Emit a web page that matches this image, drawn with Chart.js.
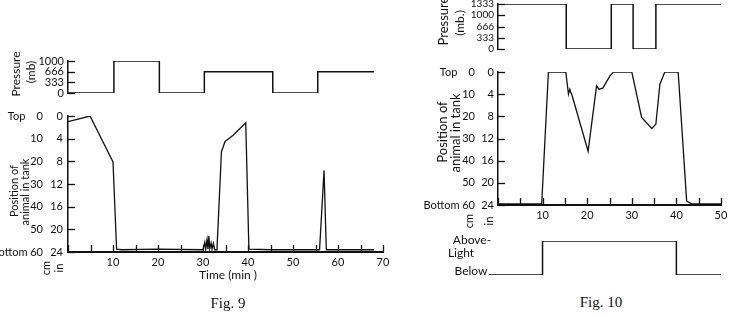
<!DOCTYPE html>
<html>
<head>
<meta charset="utf-8">
<script src="https://cdn.jsdelivr.net/npm/chart.js@4.4.0/dist/chart.umd.min.js"></script>
<style>
  body { margin: 0; background: #fff; width: 733px; height: 318px; position: relative; overflow: hidden;
         font-family: Lato, "DejaVu Sans", sans-serif; color: #111; }
  canvas { position: absolute; }
  .t { position: absolute; white-space: nowrap; line-height: 1; transform: translate(-50%, -50%); }
  .r { transform: translate(-50%, -50%) rotate(-90deg); }
  .fig { font-family: "Liberation Serif", serif; font-size: 15px; }
</style>
</head>
<body>
<canvas id="press9" width="400" height="45" style="left:0;top:55px"></canvas>
<canvas id="pos9" width="400" height="180" style="left:0;top:100px"></canvas>
<canvas id="press10" width="333" height="55" style="left:400px;top:0"></canvas>
<canvas id="pos10" width="333" height="175" style="left:400px;top:55px"></canvas>
<canvas id="light10" width="333" height="55" style="left:400px;top:230px"></canvas>

<div class="t r" style="left:16px;top:74px;font-size:12px">Pressure</div>
<div class="t r" style="left:31px;top:72px;font-size:12px">(mb)</div>
<div class="t r" style="left:13px;top:191px;font-size:11px">Position of</div>
<div class="t r" style="left:24px;top:192px;font-size:11px">animal in tank</div>
<div class="t r" style="left:45px;top:268px;font-size:11px">cm</div>
<div class="t r" style="left:58px;top:268px;font-size:11px">in</div>
<div class="t" style="left:228px;top:275px;font-size:12px">Time (min )</div>
<div class="t fig" style="left:228px;top:303px">Fig. 9</div>

<div class="t r" style="left:443px;top:21px;font-size:13px">Pressure</div>
<div class="t r" style="left:460px;top:23px;font-size:12px">(mb.)</div>
<div class="t r" style="left:442px;top:132px;font-size:13px">Position of</div>
<div class="t r" style="left:455px;top:133px;font-size:13px">animal in tank</div>
<div class="t r" style="left:468px;top:221px;font-size:11px">cm</div>
<div class="t r" style="left:488px;top:221px;font-size:11px">in</div>
<div class="t" style="left:472px;top:240px;font-size:12px">Above-</div>
<div class="t" style="left:461px;top:253px;font-size:12px">Light</div>
<div class="t" style="left:471px;top:271px;font-size:12px">Below</div>
<div class="t fig" style="left:601px;top:302px">Fig. 10</div>

<script>
// Fig. 9 pressure steps (min, mb)
const fig9PressTime = [0, 10.2, 20.3, 30.3, 45.5, 55.5, 68];
const fig9PressMb = [0, 1000, 0, 666, 0, 666, 666];
const fig9PressTicks = [0, 333, 666, 1000];

// Fig. 9 position of animal (min, inches below top)
const fig9Time = [0, 4.9, 10, 10.8, 12, 20, 30, 30.4, 30.6, 30.9, 31.1, 31.3, 31.5, 31.8, 32.0, 32.3, 32.6,
                  33.1, 34.1, 34.9, 36.7, 39.5, 40.2, 45, 55.9, 56.9, 57.4, 68];
const fig9Pos = [1, 0, 8.1, 23.5, 23.6, 23.5, 23.6, 22.3, 23.5, 21.8, 23.5, 21.2, 23.4, 22.4, 23.5, 22.5, 23.6,
                 23.6, 6.3, 4.5, 3.4, 1.2, 23.5, 23.6, 23.6, 9.6, 23.6, 23.6];
const fig9TimeTicks = [0, 5, 10, 15, 20, 25, 30, 35, 40, 45, 50, 55, 60, 65, 70];

// Fig. 10 pressure steps
const fig10PressTime = [0, 15.3, 25.4, 30.3, 35.4, 50];
const fig10PressMb = [1333, 0, 1333, 0, 1333, 1333];
const fig10PressTicks = [0, 333, 666, 1000, 1333];

// Fig. 10 position of animal
const fig10Time = [0, 9.8, 11.3, 15.2, 15.8, 16.1, 16.3, 16.6, 20.2, 22.1, 22.6, 23.5, 25.1, 25.9, 30,
                   32.2, 34.5, 35.4, 36.3, 37.4, 40.4, 42.3, 43.4, 50];
const fig10Pos = [23.8, 23.8, 0, 0, 4, 3.1, 3.6, 4.2, 14.3, 2.5, 3.1, 2.9, 0.7, 0, 0,
                  8.2, 10.2, 9.4, 2.2, 0, 0, 23.3, 23.8, 23.8];
const fig10TimeTicks = [0, 5, 10, 15, 20, 25, 30, 35, 40, 45, 50];

// Fig. 10 light (0 = below, 1 = above)
const lightTime = [-2, 10, 40, 50];
const lightLevel = [0, 1, 0, 0];

// shared depth axes
const inTicks = [0, 4, 8, 12, 16, 20, 24];
const cmTicks = [0, 10, 20, 30, 40, 50, 60];
const cmLabels = ['Top    0', '10', '20', '30', '40', '50', 'Bottom 60'];

const ink = '#111';
Chart.defaults.font.family = 'Lato, "DejaVu Sans", sans-serif';
Chart.defaults.color = ink;

const xy = (xs, ys) => xs.map((x, i) => ({ x: x, y: ys[i] }));
const useTicks = list => s => { s.ticks = list.map(v => ({ value: v })); };
const noGrid = { display: false, drawTicks: false };

// short tick marks drawn inside the plot, like the original
const innerTicks = {
  id: 'innerTicks',
  afterDraw(chart, args, opts) {
    const ctx = chart.ctx, a = chart.chartArea;
    ctx.save();
    ctx.strokeStyle = ink;
    ctx.lineWidth = 1.3;
    (opts.scales || []).forEach(id => {
      const s = chart.scales[id];
      s.ticks.forEach(t => {
        const p = Math.round(s.getPixelForValue(t.value)) + 0.5;
        ctx.beginPath();
        if (s.isHorizontal()) { ctx.moveTo(p, a.bottom); ctx.lineTo(p, a.bottom - opts.len); }
        else { ctx.moveTo(a.left, p); ctx.lineTo(a.left + opts.len, p); }
        ctx.stroke();
      });
    });
    ctx.restore();
  }
};

function baseOptions(padding, tickScales) {
  return {
    responsive: false,
    animation: false,
    events: [],
    layout: { padding: padding },
    plugins: { legend: { display: false }, tooltip: { enabled: false },
               innerTicks: { scales: tickScales, len: 7 } },
    elements: { point: { radius: 0 }, line: { tension: 0 } }
  };
}

function pressureChart(id, times, mb, tickList, maxT, maxMb, axisW, pad, fontSize) {
  const opts = baseOptions(pad, ['y']);
  opts.scales = {
    x: { type: 'linear', display: false, min: 0, max: maxT },
    y: { type: 'linear', min: 0, max: maxMb, grid: noGrid,
         border: { color: ink, width: 1.5 },
         afterBuildTicks: useTicks(tickList),
         ticks: { padding: 4, autoSkip: false, font: { size: fontSize }, color: ink, callback: v => String(v) },
         afterFit: s => { s.width = axisW; s.paddingTop = 0; s.paddingBottom = 0; } }
  };
  return new Chart(document.getElementById(id), {
    type: 'line',
    data: { datasets: [{ data: xy(times, mb), stepped: 'before', borderColor: ink, borderWidth: 1.5 }] },
    options: opts,
    plugins: [innerTicks]
  });
}

function positionChart(id, times, pos, timeTicks, maxT, inW, cmW, inPad, cmPad, xH, pad) {
  const opts = baseOptions(pad, ['x', 'yin']);
  opts.scales = {
    x: { type: 'linear', min: 0, max: maxT, grid: noGrid,
         border: { color: ink, width: 2 },
         afterBuildTicks: useTicks(timeTicks),
         ticks: { padding: 4, maxRotation: 0, autoSkip: false, font: { size: 11 }, color: ink,
                  callback: v => (v > 0 && v % 10 === 0 ? String(v) : '') },
         afterFit: s => { s.height = xH; s.paddingLeft = 0; s.paddingRight = 0; } },
    yin: { type: 'linear', position: 'left', weight: 0, reverse: true, min: 0, max: 24,
           grid: noGrid, border: { color: ink, width: 1.5 },
           afterBuildTicks: useTicks(inTicks),
           ticks: { padding: inPad, autoSkip: false, font: { size: 11 }, color: ink },
           afterFit: s => { s.width = inW; s.paddingTop = 0; s.paddingBottom = 0; } },
    ycm: { type: 'linear', position: 'left', weight: 1, reverse: true, min: 0, max: 60,
           grid: noGrid, border: { display: false },
           afterBuildTicks: useTicks(cmTicks),
           ticks: { padding: cmPad, autoSkip: false, font: { size: 11 }, color: ink,
                    callback: v => cmLabels[cmTicks.indexOf(v)] },
           afterFit: s => { s.width = cmW; s.paddingTop = 0; s.paddingBottom = 0; } }
  };
  return new Chart(document.getElementById(id), {
    type: 'line',
    data: { datasets: [{ data: xy(times, pos), yAxisID: 'yin', borderColor: ink, borderWidth: 1.3 }] },
    options: opts,
    plugins: [innerTicks]
  });
}

pressureChart('press9', fig9PressTime, fig9PressMb, fig9PressTicks, 70, 1000, 68,
              { top: 6, bottom: 7, left: 0, right: 17 }, 11);
positionChart('pos9', fig9Time, fig9Pos, fig9TimeTicks, 70, 22, 46, 5, 3, 28,
              { top: 16, bottom: 0, left: 0, right: 17 });

pressureChart('press10', fig10PressTime, fig10PressMb, fig10PressTicks, 50, 1333, 98,
              { top: 4, bottom: 6, left: 0, right: 12 }, 10);
positionChart('pos10', fig10Time, fig10Pos, fig10TimeTicks, 50, 18, 80, 4, 5, 25,
              { top: 17, bottom: 0, left: 0, right: 12 });

// light trace: no axes, labels are in the page
const lightOpts = baseOptions({ top: 11, bottom: 10, left: 89, right: 12 }, []);
lightOpts.scales = {
  x: { type: 'linear', display: false, min: -2, max: 50 },
  y: { type: 'linear', display: false, min: 0, max: 1 }
};
new Chart(document.getElementById('light10'), {
  type: 'line',
  data: { datasets: [{ data: xy(lightTime, lightLevel), stepped: 'before', borderColor: ink, borderWidth: 1.5 }] },
  options: lightOpts,
  plugins: [innerTicks]
});
</script>
</body>
</html>
